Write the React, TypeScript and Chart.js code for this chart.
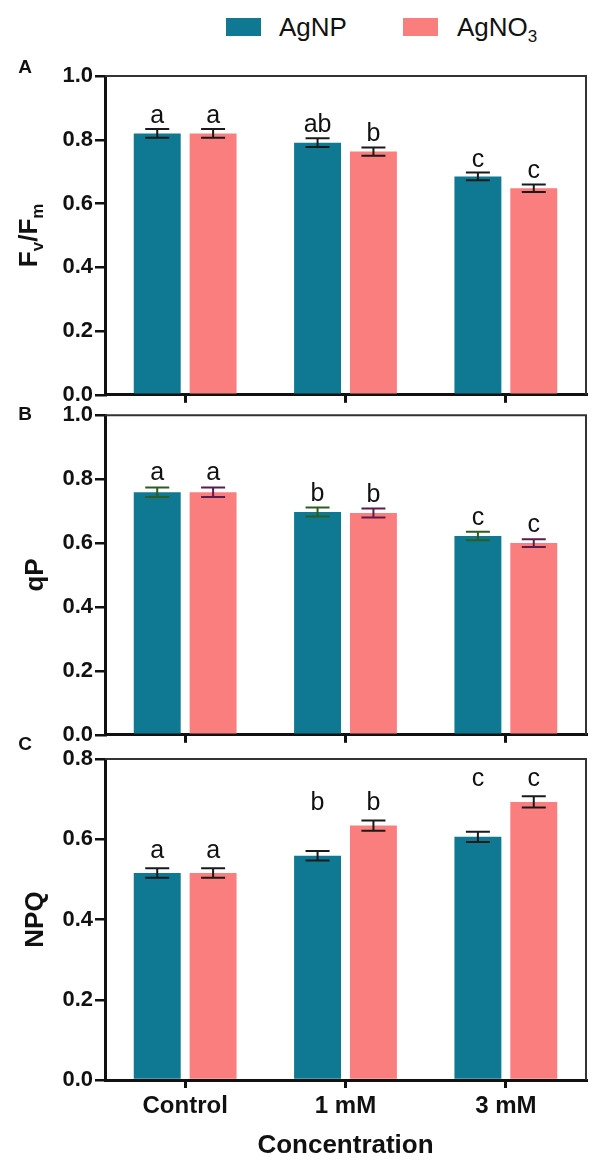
import React, { useEffect, useRef } from "react";
import { Chart, registerables } from "chart.js";

Chart.register(...registerables);

const FONT = "'Liberation Sans', Arial, Helvetica, sans-serif";
Chart.defaults.font.family = FONT;
Chart.defaults.color = "#111";

// ---------- data ----------
const categories = ["Control", "1 mM", "3 mM"];
const seriesNames = ["AgNP", "AgNO3"];

const fvfmAgNP = [0.82, 0.791, 0.685];
const fvfmAgNO3 = [0.82, 0.763, 0.648];
const fvfmErrAgNP = [0.014, 0.014, 0.012];
const fvfmErrAgNO3 = [0.014, 0.013, 0.012];
const fvfmLettersAgNP = ["a", "ab", "c"];
const fvfmLettersAgNO3 = ["a", "b", "c"];

const qpAgNP = [0.759, 0.697, 0.622];
const qpAgNO3 = [0.759, 0.694, 0.6];
const qpErrAgNP = [0.015, 0.014, 0.013];
const qpErrAgNO3 = [0.015, 0.014, 0.012];
const qpLettersAgNP = ["a", "b", "c"];
const qpLettersAgNO3 = ["a", "b", "c"];

const npqAgNP = [0.516, 0.559, 0.606];
const npqAgNO3 = [0.516, 0.634, 0.693];
const npqErrAgNP = [0.012, 0.012, 0.013];
const npqErrAgNO3 = [0.012, 0.013, 0.014];
const npqLettersAgNP = ["a", "b", "c"];
const npqLettersAgNO3 = ["a", "b", "c"];

const fvfmAxisMax = 1.0;
const qpAxisMax = 1.0;
const npqAxisMax = 0.8;
const yTickStep = 0.2;

const xTitle = "Concentration";

// ---------- styles ----------
const TEAL = "#0f7892";
const PINK = "#fb7e7e";

type PanelProps = {
  canvasTop: number;
  height: number;
  chartTop: number;
  chartBottom: number;
  yMax: number;
  values: number[][];
  errs: number[][];
  letters: string[][];
  letterMode: "own" | "pair";
  letterGap: number;
  errColors: string[];
  panelLetter: string;
  panelLetterY: number;
  yTitle: string | null;
  showXLabels: boolean;
};

function drawFvFm(ctx: CanvasRenderingContext2D, cx: number, cy: number) {
  const big = `bold 26px ${FONT}`;
  const small = `bold 17px ${FONT}`;
  const parts: [string, string, number][] = [
    ["F", big, 0],
    ["v", small, 6],
    ["/F", big, 0],
    ["m", small, 6],
  ];
  ctx.save();
  ctx.translate(cx, cy);
  ctx.rotate(-Math.PI / 2);
  let total = 0;
  parts.forEach(([t, f]) => {
    ctx.font = f;
    total += ctx.measureText(t).width;
  });
  let x = -total / 2;
  ctx.fillStyle = "#111";
  ctx.textBaseline = "alphabetic";
  ctx.textAlign = "left";
  parts.forEach(([t, f, dy]) => {
    ctx.font = f;
    ctx.fillText(t, x, 9 + dy);
    x += ctx.measureText(t).width;
  });
  ctx.restore();
}

function Panel(p: PanelProps) {
  const ref = useRef<HTMLCanvasElement>(null);
  useEffect(() => {
    const canvas = ref.current;
    if (!canvas) return;
    const xAxisH = p.showXLabels ? 87 : 12;
    const padBottom = p.height - p.chartBottom - xAxisH;

    const overlay = {
      id: "overlay",
      afterDatasetsDraw(chart: any) {
        const ctx: CanvasRenderingContext2D = chart.ctx;
        const ys = chart.scales.y;
        const a = chart.chartArea;
        ctx.save();
        // top & right frame
        ctx.strokeStyle = "#333";
        ctx.lineWidth = 2;
        ctx.beginPath();
        ctx.moveTo(a.left, a.top);
        ctx.lineTo(a.right, a.top);
        ctx.lineTo(a.right, a.bottom);
        ctx.stroke();

        // error bars
        const tops: number[][] = [];
        p.values.forEach((vals, di) => {
          const meta = chart.getDatasetMeta(di);
          ctx.strokeStyle = p.errColors[di];
          ctx.lineWidth = 2;
          tops[di] = [];
          meta.data.forEach((bar: any, i: number) => {
            const x = bar.x;
            const top = ys.getPixelForValue(vals[i] + p.errs[di][i]);
            const bot = ys.getPixelForValue(vals[i] - p.errs[di][i]);
            tops[di][i] = top;
            ctx.beginPath();
            ctx.moveTo(x, top);
            ctx.lineTo(x, bot);
            ctx.moveTo(x - 12, top);
            ctx.lineTo(x + 12, top);
            ctx.moveTo(x - 12, bot);
            ctx.lineTo(x + 12, bot);
            ctx.stroke();
          });
        });

        // significance letters
        ctx.fillStyle = "#111";
        ctx.font = `25px ${FONT}`;
        ctx.textAlign = "center";
        ctx.textBaseline = "alphabetic";
        p.values.forEach((vals, di) => {
          const meta = chart.getDatasetMeta(di);
          meta.data.forEach((bar: any, i: number) => {
            const yTop =
              p.letterMode === "pair"
                ? Math.min(tops[0][i], tops[1][i])
                : tops[di][i];
            ctx.fillText(p.letters[di][i], bar.x, yTop - p.letterGap);
          });
        });

        // panel letter
        ctx.font = `bold 19px ${FONT}`;
        ctx.textAlign = "center";
        ctx.textBaseline = "middle";
        ctx.fillText(p.panelLetter, 25, p.panelLetterY);

        if (p.yTitle === null) {
          drawFvFm(ctx, 28, (a.top + a.bottom) / 2);
        }
        ctx.restore();
      },
    };

    const chart = new Chart(canvas, {
      type: "bar",
      data: {
        labels: categories,
        datasets: [
          {
            label: seriesNames[0],
            data: p.values[0],
            backgroundColor: TEAL,
            borderWidth: 0,
            barPercentage: 0.84,
            categoryPercentage: 0.697,
          },
          {
            label: seriesNames[1],
            data: p.values[1],
            backgroundColor: PINK,
            borderWidth: 0,
            barPercentage: 0.84,
            categoryPercentage: 0.697,
          },
        ],
      },
      options: {
        animation: false,
        responsive: false,
        maintainAspectRatio: false,
        devicePixelRatio: 1,
        layout: {
          padding: { top: p.chartTop, left: 0, right: 14, bottom: padBottom },
        },
        plugins: {
          legend: { display: false },
          tooltip: { enabled: false },
        },
        scales: {
          x: {
            offset: true,
            grid: {
              offset: false,
              drawOnChartArea: false,
              drawTicks: true,
              tickLength: 8,
              color: "#111",
              lineWidth: 3,
            },
            border: { display: true, color: "#111", width: 3 },
            ticks: {
              display: p.showXLabels,
              padding: 4,
              color: "#111",
              font: { size: 24, weight: "bold", family: FONT },
            },
            title: {
              display: p.showXLabels,
              text: xTitle,
              color: "#111",
              font: { size: 26, weight: "bold", family: FONT },
              padding: { top: 0, bottom: 6 },
            },
            afterFit: (scale: any) => {
              scale.height = xAxisH;
            },
          },
          y: {
            min: 0,
            max: p.yMax,
            grid: {
              drawOnChartArea: false,
              drawTicks: true,
              tickLength: 10,
              color: "#111",
              lineWidth: 2.5,
            },
            border: { display: true, color: "#111", width: 3 },
            ticks: {
              stepSize: yTickStep,
              padding: 2,
              color: "#111",
              font: { size: 22, weight: "bold", family: FONT },
              callback: (v: any) => Number(v).toFixed(1),
            },
            title: {
              display: p.yTitle !== null,
              text: p.yTitle ?? "",
              color: "#111",
              font: { size: 26, weight: "bold", family: FONT },
              padding: { top: 20, bottom: 0 },
            },
            afterFit: (scale: any) => {
              scale.width = 105;
            },
          },
        },
      } as any,
      plugins: [overlay],
    });
    return () => chart.destroy();
  }, []);

  return (
    <canvas
      ref={ref}
      width={600}
      height={p.height}
      style={{
        position: "absolute",
        left: 0,
        top: p.canvasTop,
        width: 600,
        height: p.height,
      }}
    />
  );
}

export default function App() {
  const legendText: React.CSSProperties = {
    position: "absolute",
    top: 14,
    fontFamily: FONT,
    fontSize: 26,
    lineHeight: "26px",
    color: "#111",
    whiteSpace: "nowrap",
  };
  return (
    <div
      style={{
        position: "absolute",
        left: 0,
        top: 0,
        width: 600,
        height: 1167,
        background: "#fff",
        overflow: "hidden",
      }}
    >
      <div style={{ position: "absolute", left: 226, top: 18, width: 35, height: 18, background: TEAL }} />
      <span style={{ ...legendText, left: 279 }}>{seriesNames[0]}</span>
      <div style={{ position: "absolute", left: 403, top: 18, width: 35, height: 18, background: PINK }} />
      <span style={{ ...legendText, left: 457 }}>
        AgNO<sub style={{ fontSize: 17, verticalAlign: "-6px", lineHeight: 0 }}>3</sub>
      </span>

      <Panel
        canvasTop={0}
        height={410}
        chartTop={76}
        chartBottom={396}
        yMax={fvfmAxisMax}
        values={[fvfmAgNP, fvfmAgNO3]}
        errs={[fvfmErrAgNP, fvfmErrAgNO3]}
        letters={[fvfmLettersAgNP, fvfmLettersAgNO3]}
        letterMode="own"
        letterGap={6}
        errColors={["#1a1a1a", "#1a1a1a"]}
        panelLetter="A"
        panelLetterY={68}
        yTitle={null}
        showXLabels={false}
      />
      <Panel
        canvasTop={400}
        height={350}
        chartTop={15}
        chartBottom={337}
        yMax={qpAxisMax}
        values={[qpAgNP, qpAgNO3]}
        errs={[qpErrAgNP, qpErrAgNO3]}
        letters={[qpLettersAgNP, qpLettersAgNO3]}
        letterMode="own"
        letterGap={7}
        errColors={["#2d5e1f", "#5b1d4d"]}
        panelLetter="B"
        panelLetterY={15}
        yTitle="qP"
        showXLabels={false}
      />
      <Panel
        canvasTop={735}
        height={432}
        chartTop={24}
        chartBottom={345}
        yMax={npqAxisMax}
        values={[npqAgNP, npqAgNO3]}
        errs={[npqErrAgNP, npqErrAgNO3]}
        letters={[npqLettersAgNP, npqLettersAgNO3]}
        letterMode="pair"
        letterGap={10}
        errColors={["#1a1a1a", "#1a1a1a"]}
        panelLetter="C"
        panelLetterY={10}
        yTitle="NPQ"
        showXLabels={true}
      />
    </div>
  );
}
